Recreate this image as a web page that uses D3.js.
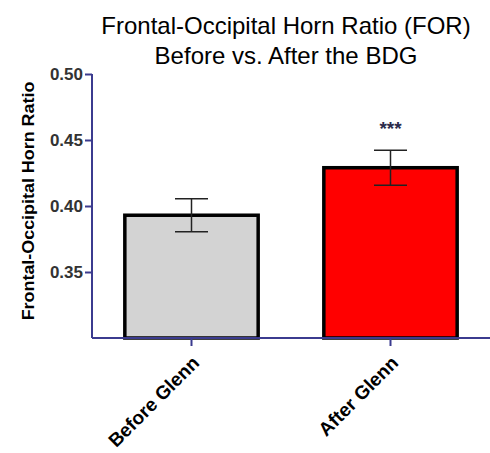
<!DOCTYPE html>
<html>
<head>
<meta charset="utf-8">
<script src="https://cdn.jsdelivr.net/npm/d3@7"></script>
<style>
  body { margin: 0; background: #fff; }
  svg { display: block; font-family: "Liberation Sans", Arial, sans-serif; }
</style>
</head>
<body>
<div id="chart"></div>
<script>
// data
var groups = ["Before Glenn", "After Glenn"];
var means = [0.393, 0.429];
var sems = [0.0125, 0.0133];
var fills = ["#d3d3d3", "#ff0000"];
var marks = ["", "***"];
var yTicks = [0.35, 0.40, 0.45, 0.50];

var width = 490, height = 453;
var axisColor = "#3b3b8f";

var svg = d3.select("#chart").append("svg")
  .attr("width", width)
  .attr("height", height);

var x = d3.scaleBand().domain(groups).range([92, 490]).paddingInner(0.33).paddingOuter(0.165);
var y = d3.scaleLinear().domain([0.30, 0.50]).range([338, 74]);

// title
var title = svg.append("text")
  .attr("text-anchor", "middle")
  .attr("font-size", 24)
  .attr("fill", "#000");
title.append("tspan").attr("x", 286).attr("y", 34).text("Frontal-Occipital Horn Ratio (FOR)");
title.append("tspan").attr("x", 286).attr("y", 64).text("Before vs. After the BDG");

// bars
var rows = groups.map(function(g, i) {
  return { name: g, mean: means[i], sem: sems[i], fill: fills[i], mark: marks[i] };
});

svg.selectAll("rect.bar").data(rows).enter().append("rect")
  .attr("class", "bar")
  .attr("x", function(d) { return x(d.name); })
  .attr("width", x.bandwidth())
  .attr("y", function(d) { return y(d.mean); })
  .attr("height", function(d) { return y(0.30) - y(d.mean); })
  .attr("fill", function(d) { return d.fill; })
  .attr("stroke", "#000")
  .attr("stroke-width", 3.5);

// error bars
var eb = svg.selectAll("g.err").data(rows).enter().append("g").attr("class", "err")
  .attr("stroke", "#222").attr("stroke-width", 1.5);
eb.append("line")
  .attr("x1", function(d) { return x(d.name) + x.bandwidth() / 2; })
  .attr("x2", function(d) { return x(d.name) + x.bandwidth() / 2; })
  .attr("y1", function(d) { return y(d.mean - d.sem); })
  .attr("y2", function(d) { return y(d.mean + d.sem); });
[-1, 1].forEach(function(s) {
  eb.append("line")
    .attr("x1", function(d) { return x(d.name) + x.bandwidth() / 2 - 16.5; })
    .attr("x2", function(d) { return x(d.name) + x.bandwidth() / 2 + 16.5; })
    .attr("y1", function(d) { return y(d.mean + s * d.sem); })
    .attr("y2", function(d) { return y(d.mean + s * d.sem); });
});

// significance
svg.selectAll("text.sig").data(rows).enter().append("text")
  .attr("class", "sig")
  .attr("x", function(d) { return x(d.name) + x.bandwidth() / 2; })
  .attr("y", function(d) { return y(d.mean + d.sem) - 15; })
  .attr("text-anchor", "middle")
  .attr("font-size", 19)
  .attr("font-weight", "bold")
  .attr("fill", "#2b2b4b")
  .text(function(d) { return d.mark; });

// y axis
var yAxis = svg.append("g")
  .attr("transform", "translate(92,0)")
  .call(d3.axisLeft(y).tickValues(yTicks).tickFormat(d3.format(".2f")).tickSize(7).tickSizeOuter(0));
yAxis.select(".domain").attr("stroke", axisColor).attr("stroke-width", 2)
  .attr("d", "M0," + y(0.50) + "V" + y(0.30));
yAxis.selectAll(".tick line").attr("stroke", axisColor).attr("stroke-width", 2);
yAxis.selectAll(".tick text")
  .attr("x", -9)
  .attr("font-size", 17)
  .attr("font-weight", "bold")
  .attr("fill", "#333")
  .attr("font-family", "Liberation Sans, Arial, sans-serif");

// x axis
var xAxis = svg.append("g")
  .attr("transform", "translate(0," + y(0.30) + ")")
  .call(d3.axisBottom(x).tickSize(8).tickSizeOuter(0));
xAxis.select(".domain").attr("stroke", axisColor).attr("stroke-width", 2)
  .attr("d", "M92,0H490");
xAxis.selectAll(".tick line").attr("stroke", axisColor).attr("stroke-width", 2);
xAxis.selectAll(".tick text")
  .attr("font-size", 19)
  .attr("font-weight", "bold")
  .attr("fill", "#000")
  .attr("font-family", "Liberation Sans, Arial, sans-serif")
  .attr("text-anchor", "end")
  .attr("dy", null)
  .attr("y", null)
  .attr("transform", "translate(9,26) rotate(-45)");

// y axis title
svg.append("text")
  .attr("transform", "translate(34,201) rotate(-90) scale(1.12,1)")
  .attr("text-anchor", "middle")
  .attr("font-size", 16)
  .attr("font-weight", "bold")
  .attr("fill", "#000")
  .text("Frontal-Occipital Horn Ratio");
</script>
</body>
</html>
